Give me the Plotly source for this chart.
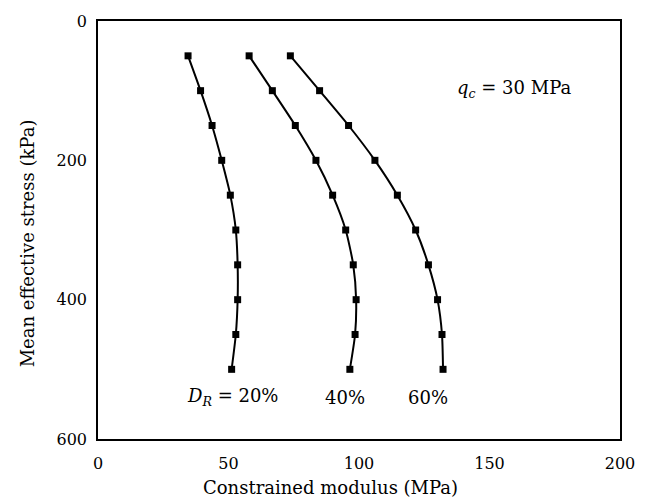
import plotly.graph_objects as go

stress = [50, 100, 150, 200, 250, 300, 350, 400, 450, 500]
mod_dr20 = [34.5, 39.3, 43.7, 47.4, 50.7, 52.8, 53.5, 53.5, 52.8, 51.2]
mod_dr40 = [57.9, 66.8, 75.6, 83.5, 89.9, 94.9, 97.8, 98.9, 98.5, 96.5]
mod_dr60 = [73.7, 84.9, 96.0, 106.1, 114.7, 121.7, 126.6, 130.1, 131.8, 132.2]
series = [("D_R = 20%", mod_dr20), ("D_R = 40%", mod_dr40), ("D_R = 60%", mod_dr60)]

x_ticks = [0, 50, 100, 150, 200]
y_ticks = [0, 200, 400, 600]

FONT = "DejaVu Serif"

fig = go.Figure()
for name, vals in series:
    fig.add_trace(go.Scatter(
        x=vals, y=stress, mode="lines+markers", name=name,
        line=dict(color="black", width=2, shape="spline", smoothing=0.6),
        marker=dict(symbol="square", size=7, color="black"),
        showlegend=False,
    ))

annots = [
    dict(x=159.5, y=98, text="<i>q<sub>c</sub></i> = 30 MPa"),
    dict(x=51.5, y=540, text="<i>D<sub>R</sub></i> = 20%"),
    dict(x=94.8, y=540, text="40%"),
    dict(x=126.3, y=540, text="60%"),
]
for a in annots:
    fig.add_annotation(x=a["x"], y=a["y"], text=a["text"], showarrow=False,
                       xref="x", yref="y", font=dict(family=FONT, size=18, color="black"))

fig.add_annotation(x=0.445, y=-0.115, xref="paper", yref="paper", yanchor="middle",
                   text="Constrained modulus (MPa)", showarrow=False,
                   font=dict(family=FONT, size=18, color="black"))
fig.add_annotation(x=-0.135, y=0.467, xref="paper", yref="paper", xanchor="center",
                   yanchor="middle", textangle=-90,
                   text="Mean effective stress (kPa)", showarrow=False,
                   font=dict(family=FONT, size=18, color="black"))

fig.update_layout(
    width=647, height=502,
    margin=dict(l=98, r=26, t=13, b=63),
    paper_bgcolor="white", plot_bgcolor="white",
    font=dict(family=FONT, size=16, color="black"),
)
fig.update_xaxes(range=[0, 200], tickvals=x_ticks, showgrid=False, zeroline=False,
                 showline=True, mirror=True, linecolor="black", linewidth=1.5,
                 ticks="", ticklabelstandoff=9, tickfont=dict(family=FONT, size=16))
fig.update_yaxes(range=[600, 0], tickvals=y_ticks, showgrid=False, zeroline=False,
                 showline=True, mirror=True, linecolor="black", linewidth=1.5,
                 ticks="", ticklabelstandoff=6, tickfont=dict(family=FONT, size=16))

fig.write_html("out.html")
